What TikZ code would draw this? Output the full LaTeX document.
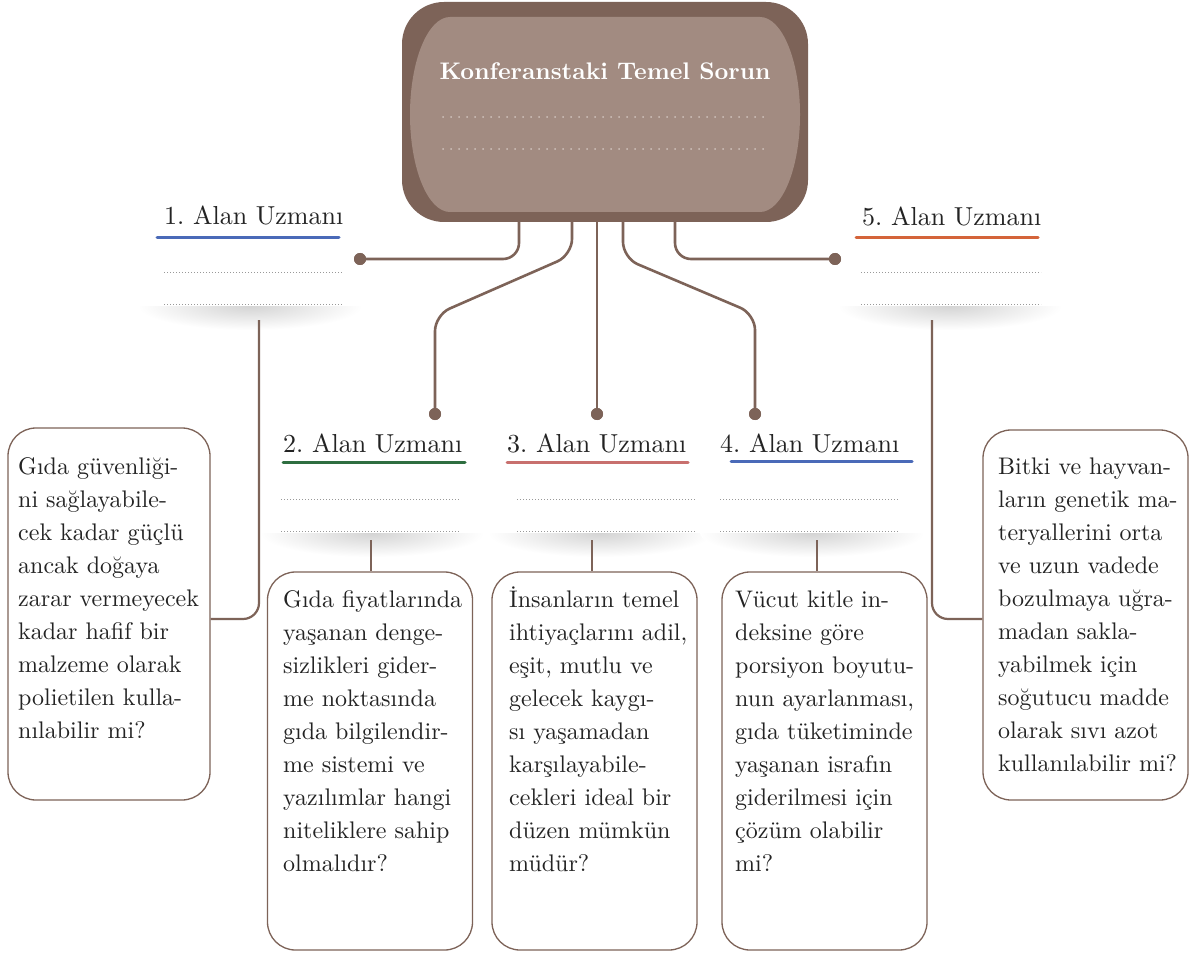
\documentclass[tikz,border=0pt]{standalone}
\usepackage{fontspec}
\setmainfont{lmroman10-regular}[Extension=.otf,BoldFont=lmroman10-bold]
\usetikzlibrary{calc}
\frenchspacing
\definecolor{brn}{RGB}{125,99,88}
\definecolor{brnin}{RGB}{162,139,129}
\definecolor{tdot}{RGB}{207,194,188}
\definecolor{ublue}{RGB}{74,106,184}
\definecolor{ugreen}{RGB}{46,110,64}
\definecolor{ured}{RGB}{200,112,110}
\definecolor{uorange}{RGB}{212,100,58}
\definecolor{txt}{RGB}{35,35,35}
\newcommand{\boxtext}[1]{\parbox[t]{200pt}{\fontsize{24}{33}\selectfont\raggedright #1}}
\newcommand{\cardshadow}[4]{% x1 x2 ybottom cx
  \begin{scope}
    \clip (#1-25,#3+1) rectangle (#2+25,#3+32);
    \shade[inner color=black!17,outer color=white] (#4,#3+1) ellipse [x radius=112pt, y radius=24pt];
  \end{scope}}
\begin{document}
\begin{tikzpicture}[x=1pt,y=-1pt,
  conn/.style={draw=brn,line width=2.6pt,rounded corners=16pt},
  lconn/.style={draw=brn,line width=2.2pt,rounded corners=16pt},
  dotc/.style={circle,fill=brn,minimum size=12pt,inner sep=0pt},
  qbox/.style={draw=brn,line width=1.3pt,rounded corners=28pt,inner sep=0pt},
  lbl/.style={anchor=base west,inner sep=0pt,text=txt,font=\fontsize{26}{30}\selectfont},
  uline/.style={line width=3pt,line cap=round},
  dline/.style={draw=gray!80,line width=0.9pt,dash pattern=on 0.8pt off 2.2pt},
  qtxt/.style={anchor=base west,inner sep=0pt,text=txt}]
\useasboundingbox (0,0) rectangle (1198,957);
\fill[white] (0,0) rectangle (1198,957);

% top box
\node[fill=brn,rounded corners=42pt,minimum width=406pt,minimum height=220pt,inner sep=0pt] (top) at (605,112) {};
\fill[brnin] (450,17) -- (760,17) .. controls (782,17) and (800,60.5) .. (800,114.5)
  .. controls (800,168.5) and (782,212) .. (760,212) -- (450,212)
  .. controls (428,212) and (410,168.5) .. (410,114.5)
  .. controls (410,60.5) and (428,17) .. (450,17) -- cycle;
\node[anchor=base,text=white,font=\fontsize{24}{28}\selectfont\bfseries,inner sep=0pt] (title) at (605,80) {Konferanstaki Temel Sorun};
\draw[tdot,line width=2pt,line cap=round,dash pattern=on 0pt off 8pt] (443,117) -- (768,117);
\draw[tdot,line width=2pt,line cap=round,dash pattern=on 0pt off 8pt] (443,149) -- (768,149);

% dots
\node[dotc] (d1) at (360,259) {};
\node[dotc] (d2) at (435,414) {};
\node[dotc] (d3) at (597,414) {};
\node[dotc] (d4) at (755,414) {};
\node[dotc] (d5) at (835,259) {};

\draw[conn] ([xshift=-86pt]top.south) -- (519,259) -- (d1.center);
\draw[conn] ([xshift=-33pt]top.south) -- (572,255) -- (435,315) -- (d2.center);
\draw[conn] ([xshift=-8pt]top.south) -- (d3.center);
\draw[conn] ([xshift=18pt]top.south) -- (623,258) -- (755,314) -- (d4.center);
\draw[conn] ([xshift=70pt]top.south) -- (675,259) -- (d5.center);
\foreach \d in {d1,d2,d3,d4,d5} \fill[brn] (\d) circle (6pt);

% label cards
\cardshadow{145}{355}{305}{250}
\cardshadow{842}{1060}{305}{950}
\cardshadow{265}{480}{532}{372}
\cardshadow{495}{705}{532}{600}
\cardshadow{705}{915}{532}{812}

\node[lbl] (L1) at (164,225) {1. Alan Uzmanı};
\node[lbl] (L2) at (283,452) {2. Alan Uzmanı};
\node[lbl] (L3) at (507,452) {3. Alan Uzmanı};
\node[lbl] (L4) at (720,452) {4. Alan Uzmanı};
\node[lbl] (L5) at (862,226) {5. Alan Uzmanı};

\draw[uline,ublue] (157,238) -- (339,238);
\draw[uline,uorange] (856,238) -- (1038,238);
\draw[uline,ugreen] (283,462) -- (465,462);
\draw[uline,ured] (507,462) -- (688,462);
\draw[uline,ublue] (731,461) -- (912,461);

\draw[dline] (164,272) -- (343,272);
\draw[dline] (164,304) -- (343,304);
\draw[dline] (861,272) -- (1041,272);
\draw[dline] (861,304) -- (1041,304);
\draw[dline] (281,499) -- (460,499);
\draw[dline] (281,531) -- (460,531);
\draw[dline] (517,499) -- (695,499);
\draw[dline] (517,531) -- (695,531);
\draw[dline] (720,499) -- (898,499);
\draw[dline] (720,531) -- (898,531);

% question boxes
\node[qbox,minimum width=202pt,minimum height=372pt] (b1) at (109,614) {};
\node[qbox,minimum width=205pt,minimum height=378pt] (b2) at (370,761) {};
\node[qbox,minimum width=205pt,minimum height=378pt] (b3) at (594.5,761) {};
\node[qbox,minimum width=205pt,minimum height=378pt] (b4) at (824.5,761) {};
\node[qbox,minimum width=205pt,minimum height=370pt] (b5) at (1085.5,615) {};

\coordinate (s1) at (259,320);
\coordinate (j1) at (259,619);
\coordinate (s5) at (932,320);
\coordinate (j5) at (932,619);
\coordinate (s2) at (371,540);
\coordinate (s3) at (592,540);
\coordinate (s4) at (817,540);
\draw[lconn] (s1) -- (j1) -- (j1 -| b1.east);
\draw[lconn] (s5) -- (j5) -- (j5 -| b5.west);
\draw[lconn] (s2) -- (s2 |- b2.north);
\draw[lconn] (s3) -- (s3 |- b3.north);
\draw[lconn] (s4) -- (s4 |- b4.north);

\node[qtxt] (t1) at (18,474) {\boxtext{Gıda güvenliği-\\ni sağlayabile-\\cek kadar güçlü\\ancak doğaya\\zarar vermeyecek\\kadar hafif bir\\malzeme olarak\\polietilen kulla-\\nılabilir mi?}};
\node[qtxt] (t2) at (283,607) {\boxtext{Gıda fiyatlarında\\yaşanan denge-\\sizlikleri gider-\\me noktasında\\gıda bilgilendir-\\me sistemi ve\\yazılımlar hangi\\niteliklere sahip\\olmalıdır?}};
\node[qtxt] (t3) at (509,607) {\boxtext{İnsanların temel\\ihtiyaçlarını adil,\\eşit, mutlu ve\\gelecek kaygı-\\sı yaşamadan\\karşılayabile-\\cekleri ideal bir\\düzen mümkün\\müdür?}};
\node[qtxt] (t4) at (735,607) {\boxtext{Vücut kitle in-\\deksine göre\\porsiyon boyutu-\\nun ayarlanması,\\gıda tüketiminde\\yaşanan israfın\\giderilmesi için\\çözüm olabilir\\mi?}};
\node[qtxt] (t5) at (998,474) {\boxtext{Bitki ve hayvan-\\ların genetik ma-\\teryallerini orta\\ve uzun vadede\\bozulmaya uğra-\\madan sakla-\\yabilmek için\\soğutucu madde\\olarak sıvı azot\\kullanılabilir mi?}};
\end{tikzpicture}
\end{document}
